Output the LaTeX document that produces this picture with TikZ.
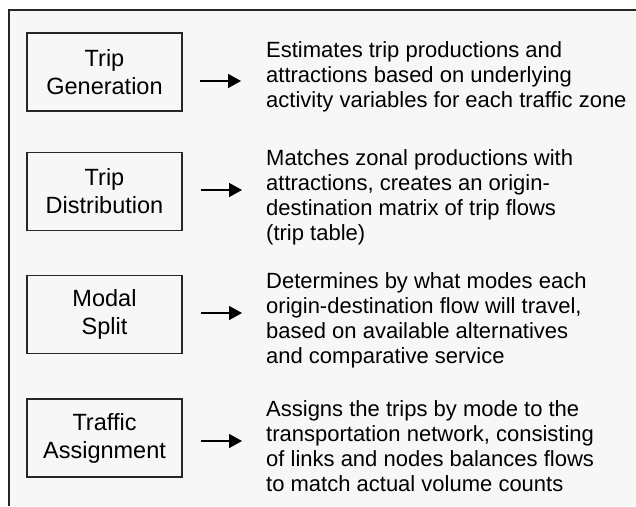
\documentclass[tikz,border=0pt]{standalone}
\usepackage{fontspec}
\setmainfont{Liberation Sans}
\usetikzlibrary{arrows.meta}

\begin{document}
\begin{tikzpicture}[x=1pt,y=-1pt,
  stage/.style={draw=black!85, line width=1.3pt, minimum width=155pt, minimum height=78pt, align=center, inner sep=0pt, font=\fontsize{23.5}{28}\selectfont},
  note/.style={anchor=base west, align=left, inner sep=0pt, font=\fontsize{22}{25}\selectfont},
  flow/.style={line width=1.5pt, -{Triangle[length=13pt,width=14pt]}}]
\useasboundingbox (0,0) rectangle (636,506);
\fill [black!3] (9,10) rectangle (636,506);
\draw [line width=2.5pt, black!85] (9,506) -- (9,10) -- (636,10);

\node [stage] (gen) at (104.5,72) {Trip\\Generation};
\node [stage] (dist) at (104.5,191.5) {Trip\\Distribution};
\node [stage] (modal) at (104.5,314.5) {Modal\\Split};
\node [stage] (assign) at (104.5,438) {Traffic\\Assignment};

% text blocks sit on the baseline of their last line
\node [note] (gentxt) at (266,107) {Estimates trip productions and\\attractions based on underlying\\activity variables for each traffic zone};
\node [note] (disttxt) at (266,240) {Matches zonal productions with\\attractions, creates an origin-\\destination matrix of trip flows\\(trip table)};
\node [note] (modaltxt) at (266,363) {Determines by what modes each\\origin-destination flow will travel,\\based on available alternatives\\and comparative service};
\node [note] (assigntxt) at (266,491) {Assigns the trips by mode to the\\transportation network, consisting\\of links and nodes balances flows\\to match actual volume counts};

\coordinate (g1) at (200,81); \coordinate (g2) at (241,81);
\coordinate (d1) at (201,190); \coordinate (d2) at (242,190);
\coordinate (m1) at (201,313); \coordinate (m2) at (242,313);
\coordinate (a1) at (201,441); \coordinate (a2) at (242,441);
\draw [flow] (g1) -- (g2);
\draw [flow] (d1) -- (d2);
\draw [flow] (m1) -- (m2);
\draw [flow] (a1) -- (a2);
\end{tikzpicture}
\end{document}
